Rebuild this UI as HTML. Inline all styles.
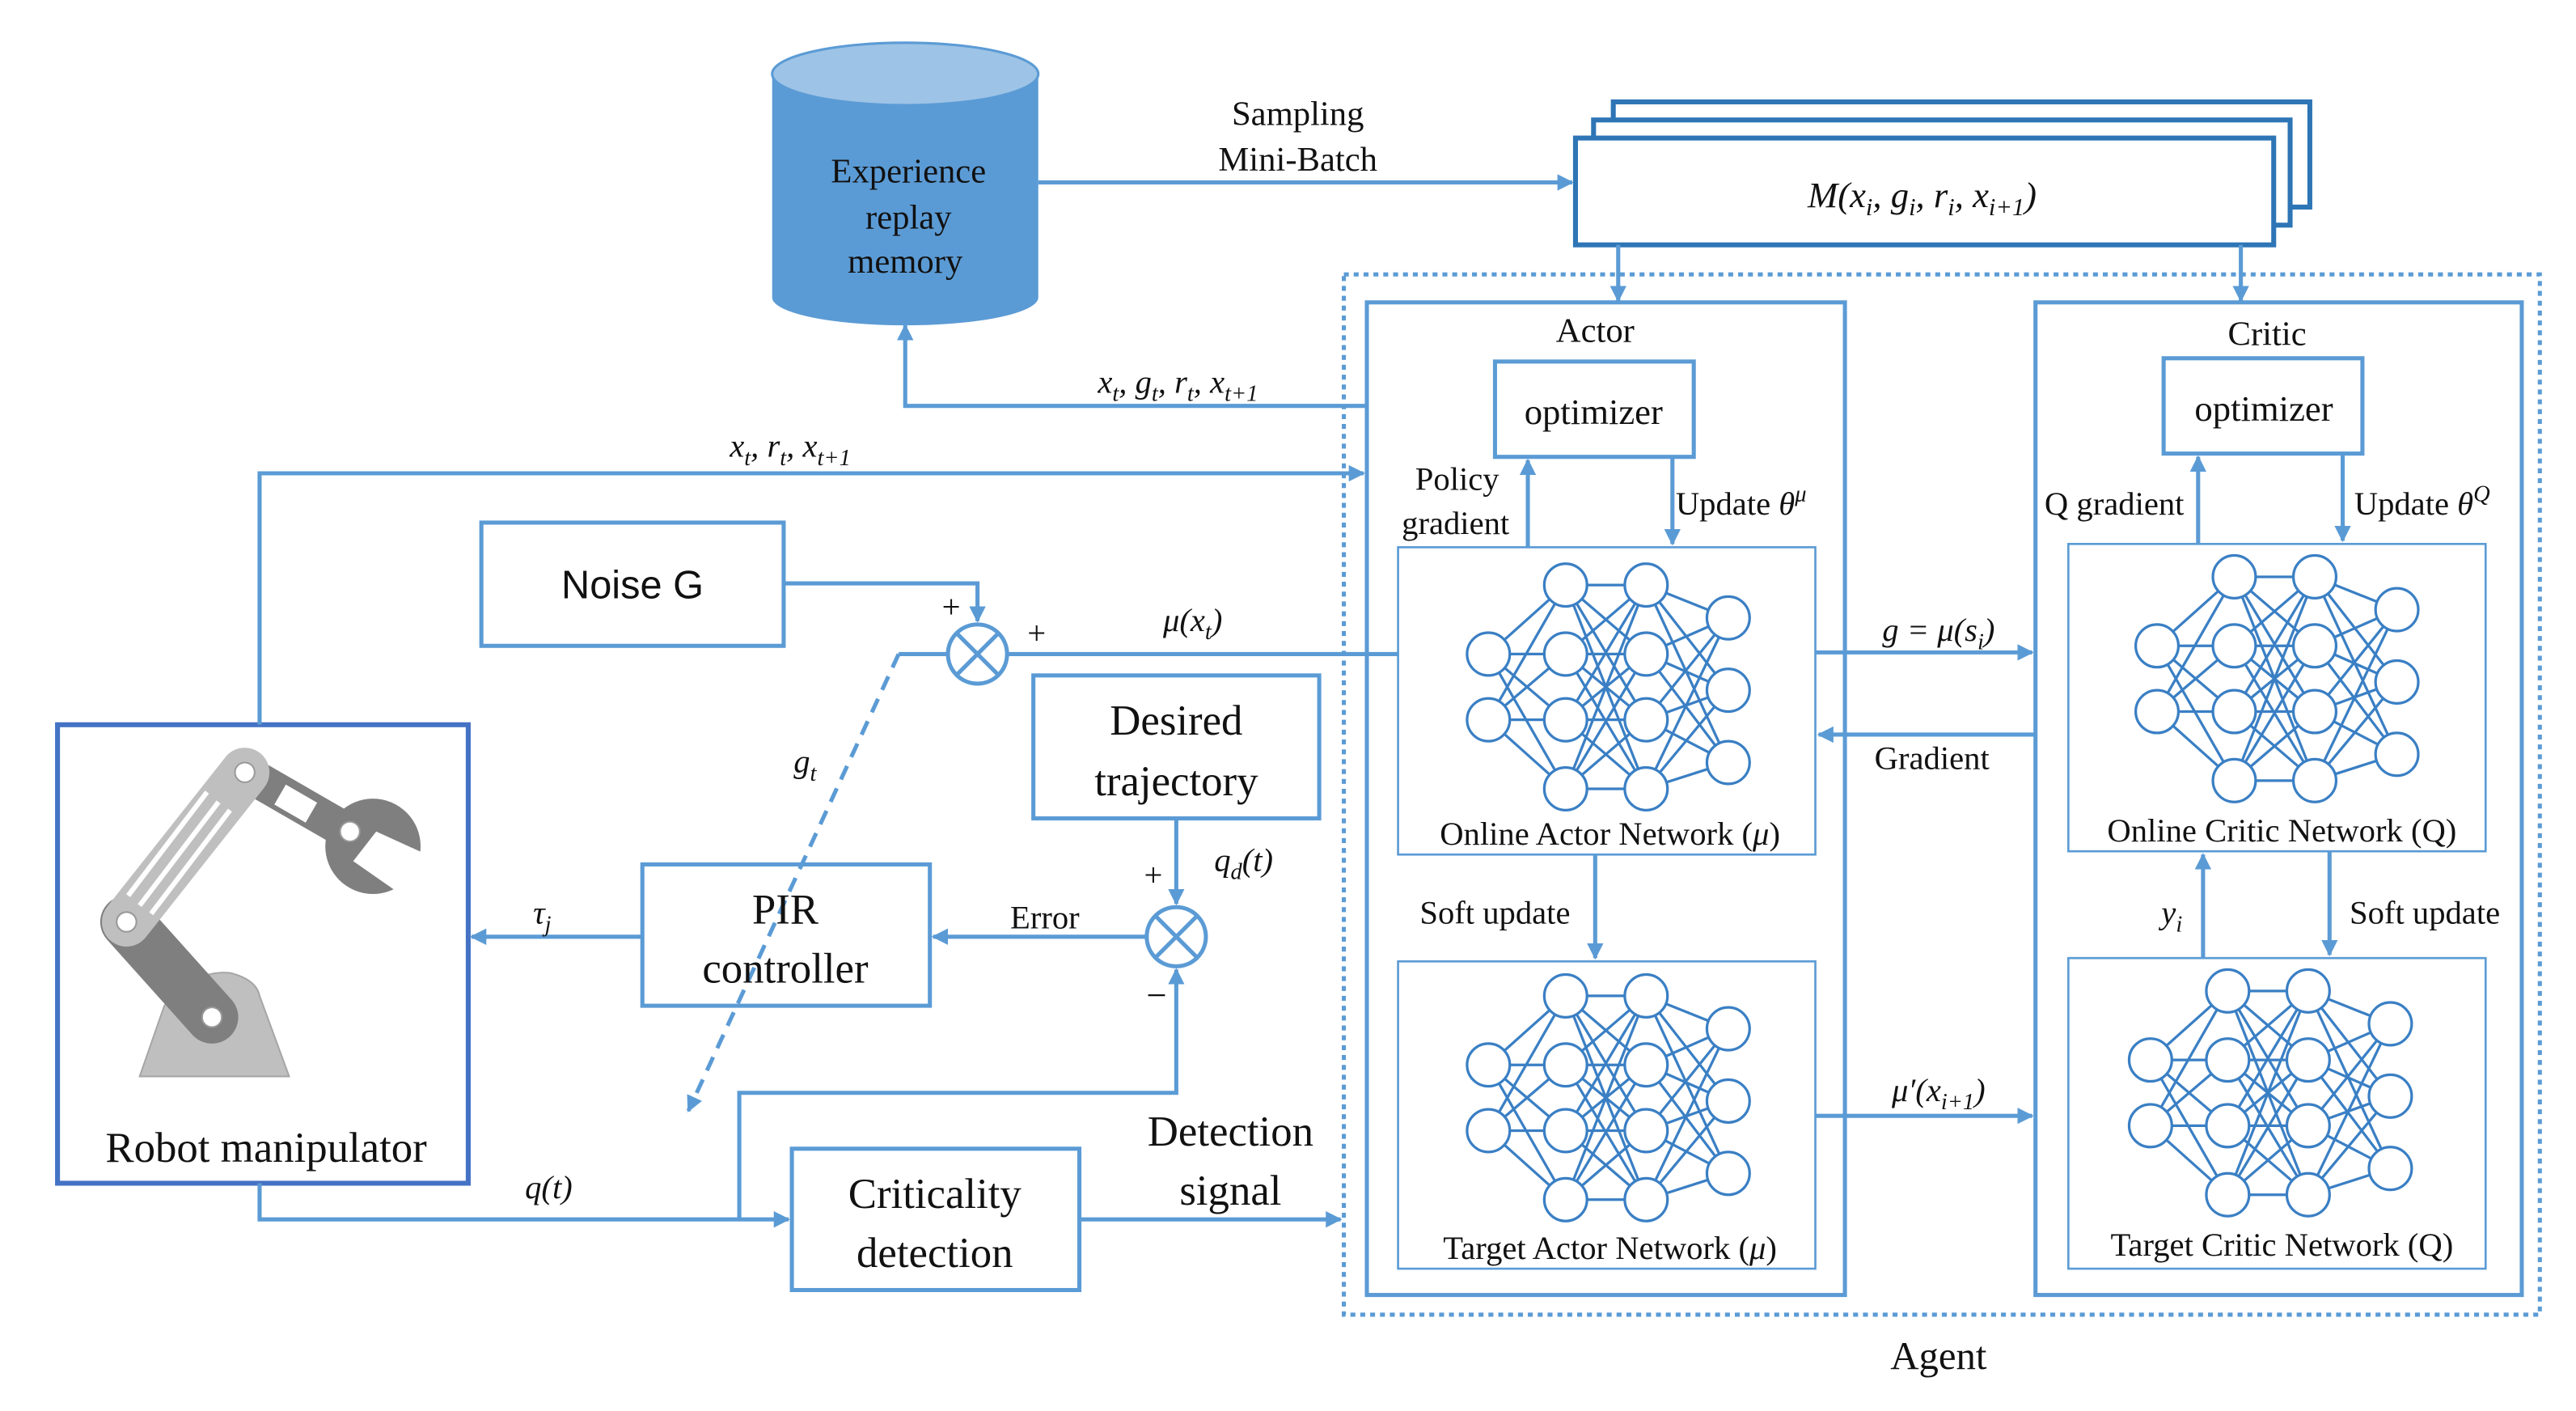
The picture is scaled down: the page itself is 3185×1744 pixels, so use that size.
<!DOCTYPE html>
<html><head><meta charset="utf-8"><style>
html,body{margin:0;padding:0;background:#fff;}
svg{display:block;}
text{font-family:"Liberation Serif",serif;fill:#111;}
.s{font-family:"Liberation Sans",sans-serif;}
.i{font-style:italic;}
</style></head><body>
<svg width="3185" height="1744" viewBox="0 0 1568 858.6" xmlns="http://www.w3.org/2000/svg">
<defs>
<marker id="a" viewBox="0 0 10 10" refX="9" refY="5" markerWidth="4" markerHeight="4" orient="auto-start-reverse"><path d="M0,0 L10,5 L0,10 z" fill="#5b9bd5"/></marker>
<g id="net" stroke="#3a7fc4" stroke-width="1.6" fill="none">
<g>
<path d="M906,398L953,356M906,398L953,398M906,398L953,438M906,398L953,480M906,438L953,356M906,438L953,398M906,438L953,438M906,438L953,480"/>
<path d="M953,356L1002,356M953,356L1002,398M953,356L1002,438M953,356L1002,480M953,398L1002,356M953,398L1002,398M953,398L1002,438M953,398L1002,480M953,438L1002,356M953,438L1002,398M953,438L1002,438M953,438L1002,480M953,480L1002,356M953,480L1002,398M953,480L1002,438M953,480L1002,480"/>
<path d="M1002,356L1052,376M1002,356L1052,420M1002,356L1052,464M1002,398L1052,376M1002,398L1052,420M1002,398L1052,464M1002,438L1052,376M1002,438L1052,420M1002,438L1052,464M1002,480L1052,376M1002,480L1052,420M1002,480L1052,464"/>
</g>
<g fill="#fff">
<circle cx="906" cy="398" r="13"/><circle cx="906" cy="438" r="13"/>
<circle cx="953" cy="356" r="13"/><circle cx="953" cy="398" r="13"/><circle cx="953" cy="438" r="13"/><circle cx="953" cy="480" r="13"/>
<circle cx="1002" cy="356" r="13"/><circle cx="1002" cy="398" r="13"/><circle cx="1002" cy="438" r="13"/><circle cx="1002" cy="480" r="13"/>
<circle cx="1052" cy="376" r="13"/><circle cx="1052" cy="420" r="13"/><circle cx="1052" cy="464" r="13"/>
</g>
</g>
</defs>

<!-- cylinder -->
<path d="M470,45 L470,181 A81,17 0 0 0 632,181 L632,45 Z" fill="#5b9bd5"/>
<ellipse cx="551" cy="45" rx="81" ry="19" fill="#9dc3e6" stroke="#5b9bd5" stroke-width="1.5"/>
<text x="553" y="111" font-size="21" text-anchor="middle">Experience</text>
<text x="553" y="139" font-size="21" text-anchor="middle">replay</text>
<text x="551" y="166" font-size="21" text-anchor="middle">memory</text>

<!-- M stack -->
<g fill="#fff" stroke="#2e75b6" stroke-width="3">
<rect x="982" y="62" width="424" height="64"/>
<rect x="970" y="73" width="424" height="64"/>
<rect x="959" y="84" width="425" height="65"/>
</g>
<text x="1170" y="126" font-size="22" text-anchor="middle" class="i">M(x<tspan font-size="15" dy="5">i</tspan><tspan dy="-5">, g</tspan><tspan font-size="15" dy="5">i</tspan><tspan dy="-5">, r</tspan><tspan font-size="15" dy="5">i</tspan><tspan dy="-5">, x</tspan><tspan font-size="15" dy="5">i+1</tspan><tspan dy="-5">)</tspan></text>

<g stroke="#5b9bd5" stroke-width="2.5" fill="none">
<line x1="632" y1="111" x2="957" y2="111" marker-end="url(#a)"/>
<line x1="985" y1="149" x2="985" y2="183" marker-end="url(#a)"/>
<line x1="1364" y1="149" x2="1364" y2="183" marker-end="url(#a)"/>
<rect x="818" y="167" width="728" height="633" stroke-dasharray="3,3" stroke-width="2.5"/>
<rect x="832" y="184" width="291" height="604"/>
<rect x="1239" y="184" width="296" height="604"/>
<rect x="910" y="220" width="121" height="58"/>
<rect x="1317" y="218" width="121" height="58"/>
<rect x="293" y="318" width="184" height="75"/>
<rect x="629" y="411" width="174" height="87"/>
<rect x="391" y="526" width="175" height="86"/>
<rect x="482" y="699" width="175" height="86"/>
<rect x="35" y="441" width="250" height="279" stroke="#4472c4" stroke-width="3"/>
<polyline points="832,247 551,247 551,198" marker-end="url(#a)"/>
<polyline points="158,441 158,288 830,288" marker-end="url(#a)"/>
<polyline points="477,355 595,355 595,378" marker-end="url(#a)"/>
<circle cx="595" cy="398" r="18"/>
<path d="M582,385L608,411M608,385L582,411"/>
<line x1="613" y1="398" x2="851" y2="398"/>
<line x1="577" y1="398" x2="547" y2="398"/>
<line x1="547" y1="398" x2="419" y2="676" stroke-dasharray="9,6" marker-end="url(#a)"/>
<circle cx="716" cy="570" r="18"/>
<path d="M703,557L729,583M729,557L703,583"/>
<line x1="716" y1="498" x2="716" y2="550" marker-end="url(#a)"/>
<line x1="698" y1="570" x2="568" y2="570" marker-end="url(#a)"/>
<line x1="391" y1="570" x2="287" y2="570" marker-end="url(#a)"/>
<polyline points="158,720 158,742 480,742" marker-end="url(#a)"/>
<polyline points="450,742 450,665 716,665 716,590" marker-end="url(#a)"/>
<line x1="657" y1="742" x2="816" y2="742" marker-end="url(#a)"/>
<line x1="930" y1="333" x2="930" y2="280" marker-end="url(#a)"/>
<line x1="1018" y1="278" x2="1018" y2="331" marker-end="url(#a)"/>
<line x1="1338" y1="331" x2="1338" y2="278" marker-end="url(#a)"/>
<line x1="1426" y1="276" x2="1426" y2="329" marker-end="url(#a)"/>
<line x1="1105" y1="397" x2="1237" y2="397" marker-end="url(#a)"/>
<line x1="1239" y1="447" x2="1107" y2="447" marker-end="url(#a)"/>
<line x1="1105" y1="679" x2="1237" y2="679" marker-end="url(#a)"/>
<line x1="971" y1="520" x2="971" y2="583" marker-end="url(#a)"/>
<line x1="1341" y1="583" x2="1341" y2="520" marker-end="url(#a)"/>
<line x1="1418" y1="518" x2="1418" y2="581" marker-end="url(#a)"/>
</g>
<g fill="#fff" stroke="#5b9bd5" stroke-width="1.3">
<rect x="851" y="333" width="254" height="187"/>
<rect x="851" y="585" width="254" height="187"/>
<rect x="1259" y="331" width="254" height="187"/>
<rect x="1259" y="583" width="254" height="189"/>
</g>
<use href="#net"/>
<use href="#net" transform="translate(0,250)"/>
<use href="#net" transform="translate(407,-5)"/>
<use href="#net" transform="translate(403,247)"/>

<!-- robot -->
<path d="M85,655 L100,612 Q118,590 140,592 Q156,596 158,606 L176,655 Z" fill="#bfbfbf" stroke="#a6a6a6"/>
<line x1="129" y1="619" x2="77" y2="561" stroke="#7f7f7f" stroke-width="32" stroke-linecap="round"/>
<line x1="149" y1="470" x2="215" y2="508" stroke="#7f7f7f" stroke-width="22"/>
<rect x="-11" y="-7" width="22" height="14" fill="#fff" transform="translate(180,489) rotate(30)"/>
<line x1="77" y1="561" x2="149" y2="470" stroke="#bfbfbf" stroke-width="30" stroke-linecap="round"/>
<g stroke="#fff" stroke-width="3"><line x1="78" y1="545" x2="126" y2="482"/><line x1="85" y1="551" x2="133" y2="488"/><line x1="92" y1="556" x2="140" y2="493"/></g>
<circle cx="227" cy="515" r="29" fill="#7f7f7f"/>
<polygon points="229,506 262,521 248,547 215,524" fill="#fff"/>
<circle cx="213" cy="506" r="6" fill="#fff" stroke="#999"/>
<circle cx="149" cy="470" r="6" fill="#fff" stroke="#999"/>
<circle cx="77" cy="561" r="6" fill="#fff" stroke="#999"/>
<circle cx="129" cy="619" r="6" fill="#fff" stroke="#999"/>

<!-- labels -->
<text x="790" y="76" font-size="21" text-anchor="middle">Sampling</text>
<text x="790" y="104" font-size="21" text-anchor="middle">Mini-Batch</text>
<text x="717" y="239" font-size="20" text-anchor="middle" class="i">x<tspan font-size="14" dy="5">t</tspan><tspan dy="-5">, g</tspan><tspan font-size="14" dy="5">t</tspan><tspan dy="-5">, r</tspan><tspan font-size="14" dy="5">t</tspan><tspan dy="-5">, x</tspan><tspan font-size="14" dy="5">t+1</tspan></text>
<text x="481" y="278" font-size="20" text-anchor="middle" class="i">x<tspan font-size="14" dy="5">t</tspan><tspan dy="-5">, r</tspan><tspan font-size="14" dy="5">t</tspan><tspan dy="-5">, x</tspan><tspan font-size="14" dy="5">t+1</tspan></text>
<text x="385" y="364" font-size="24" text-anchor="middle" class="s">Noise G</text>
<text x="579" y="376" font-size="20" text-anchor="middle">+</text>
<text x="631" y="392" font-size="20" text-anchor="middle">+</text>
<text x="726" y="384" font-size="20" text-anchor="middle" class="i">μ(x<tspan font-size="14" dy="5">t</tspan><tspan dy="-5">)</tspan></text>
<text x="490" y="470" font-size="20" text-anchor="middle" class="i">g<tspan font-size="14" dy="5">t</tspan></text>
<text x="716" y="447" font-size="26" text-anchor="middle">Desired</text>
<text x="716" y="484" font-size="26" text-anchor="middle">trajectory</text>
<text x="702" y="539" font-size="20" text-anchor="middle">+</text>
<text x="757" y="530" font-size="20" text-anchor="middle" class="i">q<tspan font-size="14" dy="5">d</tspan><tspan dy="-5">(t)</tspan></text>
<text x="704" y="613" font-size="22" text-anchor="middle">−</text>
<text x="636" y="565" font-size="20" text-anchor="middle">Error</text>
<text x="478" y="562" font-size="26" text-anchor="middle">PIR</text>
<text x="478" y="598" font-size="26" text-anchor="middle">controller</text>
<text x="330" y="562" font-size="20" text-anchor="middle" class="i">τ<tspan font-size="14" dy="5">j</tspan></text>
<text x="162" y="707" font-size="26" text-anchor="middle">Robot manipulator</text>
<text x="334" y="729" font-size="20" text-anchor="middle" class="i">q(t)</text>
<text x="569" y="735" font-size="26" text-anchor="middle">Criticality</text>
<text x="569" y="771" font-size="26" text-anchor="middle">detection</text>
<text x="749" y="697" font-size="26" text-anchor="middle">Detection</text>
<text x="749" y="733" font-size="26" text-anchor="middle">signal</text>
<text x="971" y="208" font-size="21" text-anchor="middle">Actor</text>
<text x="1380" y="210" font-size="21" text-anchor="middle">Critic</text>
<text x="970" y="258" font-size="22" text-anchor="middle">optimizer</text>
<text x="1378" y="256" font-size="22" text-anchor="middle">optimizer</text>
<text x="887" y="298" font-size="20" text-anchor="middle">Policy</text>
<text x="886" y="325" font-size="20" text-anchor="middle">gradient</text>
<text x="1020" y="313" font-size="20">Update <tspan class="i">θ</tspan><tspan font-size="14" dy="-8" class="i">μ</tspan></text>
<text x="1287" y="313" font-size="20" text-anchor="middle">Q gradient</text>
<text x="1433" y="313" font-size="20">Update <tspan class="i">θ</tspan><tspan font-size="14" dy="-8" class="i">Q</tspan></text>
<text x="1180" y="390" font-size="20" text-anchor="middle" class="i">g = μ(s<tspan font-size="14" dy="5">i</tspan><tspan dy="-5">)</tspan></text>
<text x="1176" y="468" font-size="20" text-anchor="middle">Gradient</text>
<text x="1180" y="670" font-size="20" text-anchor="middle" class="i">μ′(x<tspan font-size="14" dy="5">i+1</tspan><tspan dy="-5">)</tspan></text>
<text x="980" y="514" font-size="20" text-anchor="middle">Online Actor Network (<tspan class="i">μ</tspan>)</text>
<text x="980" y="766" font-size="20" text-anchor="middle">Target Actor Network (<tspan class="i">μ</tspan>)</text>
<text x="1389" y="512" font-size="20" text-anchor="middle">Online Critic Network (Q)</text>
<text x="1389" y="764" font-size="20" text-anchor="middle">Target Critic Network (Q)</text>
<text x="910" y="562" font-size="20" text-anchor="middle">Soft update</text>
<text x="1476" y="562" font-size="20" text-anchor="middle">Soft update</text>
<text x="1322" y="562" font-size="20" text-anchor="middle" class="i">y<tspan font-size="14" dy="5">i</tspan></text>
<text x="1180" y="833" font-size="24" text-anchor="middle">Agent</text>
</svg>
</body></html>
